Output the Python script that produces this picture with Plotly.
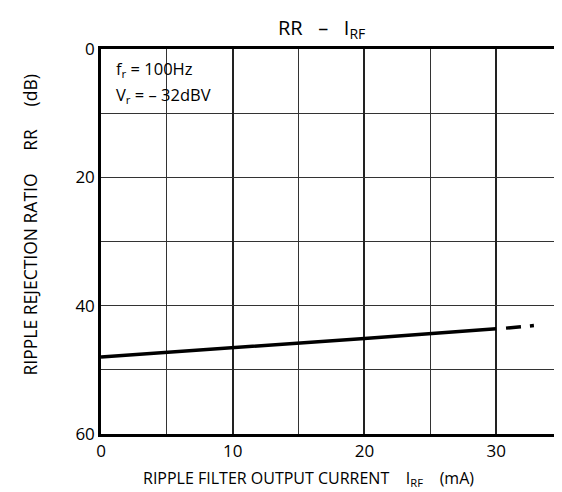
import plotly.graph_objects as go

# Data
i_rf_solid = [0, 10, 20, 30]
rr_solid = [48.0, 46.6, 45.1, 43.6]
i_rf_dash = [30.75, 32.9]
rr_dash = [43.5, 43.1]

x_ticks = [0, 10, 20, 30]
y_ticks = [0, 20, 40, 60]

FONT = "Open Sans"
L, R, T, B = 93, 557, 41, 426
W, H = 562, 492
PW, PH = R - L, B - T


def px(xp):
    return (xp - L) / PW


def py(yp):
    return (B - yp) / PH


fig = go.Figure()
fig.add_trace(go.Scatter(x=i_rf_solid, y=rr_solid, mode="lines",
                         line=dict(color="black", width=3.5), showlegend=False))
fig.add_trace(go.Scatter(x=i_rf_dash, y=rr_dash, mode="lines",
                         line=dict(color="black", width=3.5, dash="15px,9px,4px,20px"),
                         showlegend=False))

fig.update_layout(
    width=W, height=H,
    margin=dict(l=L, r=W - R, t=T, b=H - B),
    paper_bgcolor="white", plot_bgcolor="white",
    font=dict(family=FONT, color="black", size=16),
    xaxis=dict(range=[0, 35], tickvals=x_ticks, ticktext=[str(v) for v in x_ticks],
               showgrid=True, gridcolor="#222", gridwidth=1.8,
               minor=dict(dtick=5, showgrid=True, gridcolor="#333", gridwidth=1.1),
               showline=True, linecolor="black", linewidth=2.5, mirror=True,
               ticks="", zeroline=False, tickfont=dict(size=17)),
    yaxis=dict(range=[60, 0], tickvals=y_ticks, ticktext=[str(v) for v in y_ticks],
               showgrid=True, gridcolor="#333", gridwidth=1.1,
               minor=dict(dtick=10, showgrid=True, gridcolor="#333", gridwidth=1.1),
               showline=True, linecolor="black", linewidth=2.5, mirror=True,
               ticks="", zeroline=False, tickfont=dict(size=17)),
)

annotations = [
    dict(text="RR &nbsp;&nbsp;–&nbsp;&nbsp; I<sub>RF</sub>", x=px(315), y=py(21),
         xref="paper", yref="paper", xanchor="center", yanchor="middle",
         showarrow=False, font=dict(size=20)),
    dict(text="RIPPLE FILTER OUTPUT CURRENT &nbsp;&nbsp; I<sub>RF</sub> &nbsp;&nbsp; (mA)",
         x=px(302), y=py(470), xref="paper", yref="paper", xanchor="center",
         yanchor="middle", showarrow=False, font=dict(size=16)),
    dict(text="RIPPLE REJECTION RATIO &nbsp;&nbsp;&nbsp; RR &nbsp;&nbsp;&nbsp; (dB)",
         x=px(22), y=py(217), xref="paper", yref="paper", xanchor="center",
         yanchor="middle", showarrow=False, textangle=-90, font=dict(size=17.5)),
    dict(text="f<sub>r</sub> = 100Hz",
         x=px(106), y=py(61), xref="paper", yref="paper", showarrow=False,
         xanchor="left", yanchor="middle", align="left", font=dict(size=16.5)),
    dict(text="V<sub>r</sub> = – 32dBV",
         x=px(106), y=py(87), xref="paper", yref="paper", showarrow=False,
         xanchor="left", yanchor="middle", align="left", font=dict(size=16.5)),
]
fig.update_layout(annotations=annotations)

fig.write_html("out.html")
